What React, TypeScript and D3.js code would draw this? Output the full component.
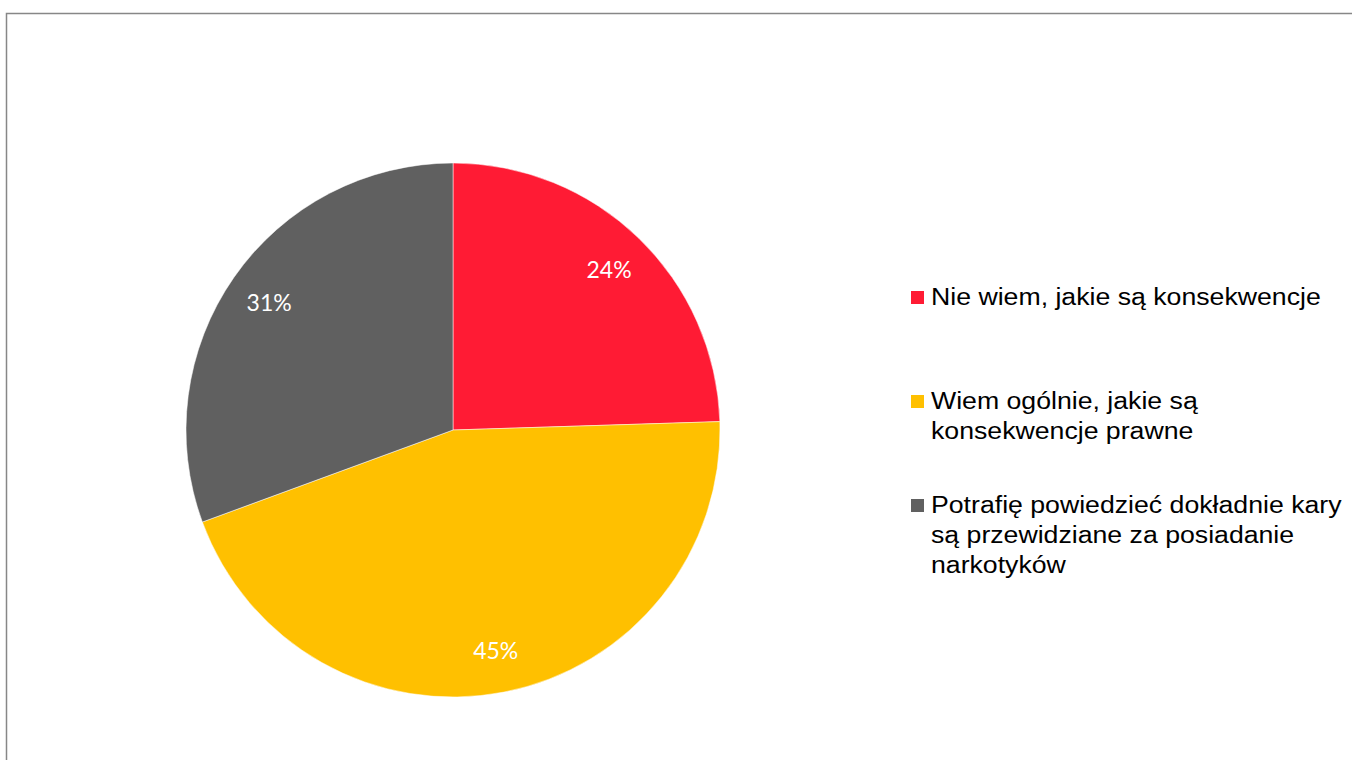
import React from "react";
import * as d3 from "d3";

const categories = [
  "Nie wiem, jakie są konsekwencje",
  "Wiem ogólnie, jakie są konsekwencje prawne",
  "Potrafię powiedzieć dokładnie kary są przewidziane za posiadanie narkotyków",
];
const legendLines = [
  ["Nie wiem, jakie są konsekwencje"],
  ["Wiem ogólnie, jakie są", "konsekwencje prawne"],
  ["Potrafię powiedzieć dokładnie kary", "są przewidziane za posiadanie", "narkotyków"],
];
const values = [24.5, 44.9, 30.6];
const labels = ["24%", "45%", "31%"];
const colors = ["#FF1B34", "#FFC000", "#606060"];

export default function App() {
  const W = 1352, H = 760;
  const cx = 453, cy = 430, r = 267;
  const pie = d3.pie<number>().sort(null).value((d) => d)(values);
  const arc = d3.arc<d3.PieArcDatum<number>>().innerRadius(0).outerRadius(r);
  const labelArc = d3.arc<d3.PieArcDatum<number>>().innerRadius(r * 0.84).outerRadius(r * 0.84);
  const legendY = [305, 409, 513];
  const lx = 931;
  return (
    <svg width={W} height={H} style={{ position: "absolute", left: 0, top: 0 }}>
      <rect x={0} y={0} width={W} height={H} fill="#fff" />
      <rect x={6.5} y={13.5} width={1400} height={800} fill="none" stroke="#878787" strokeWidth={1.5} />
      <g transform={`translate(${cx},${cy})`}>
        {pie.map((p, i) => (
          <path key={i} d={arc(p) || ""} fill={colors[i]} stroke="#fff" strokeWidth={0.5} />
        ))}
        {pie.map((p, i) => {
          const [x, y] = labelArc.centroid(p);
          return (
            <text key={i} x={x} y={y} textAnchor="middle" dominantBaseline="central"
              fill="#fff" fontFamily="Lato, 'Open Sans', sans-serif" fontSize={23}>
              {labels[i]}
            </text>
          );
        })}
      </g>
      <g>
        {categories.map((c, i) => (
          <g key={c}>
            <rect x={911} y={legendY[i] - 14} width={13} height={13} fill={colors[i]} />
            {legendLines[i].map((ln, j) => (
              <text key={j} x={0} y={0}
                transform={`translate(${lx},${legendY[i] + j * 30}) scale(1.16,1)`}
                fontFamily="'Liberation Sans', Arial, sans-serif"
                fontSize={23} fill="#000">{ln}</text>
            ))}
          </g>
        ))}
      </g>
    </svg>
  );
}
